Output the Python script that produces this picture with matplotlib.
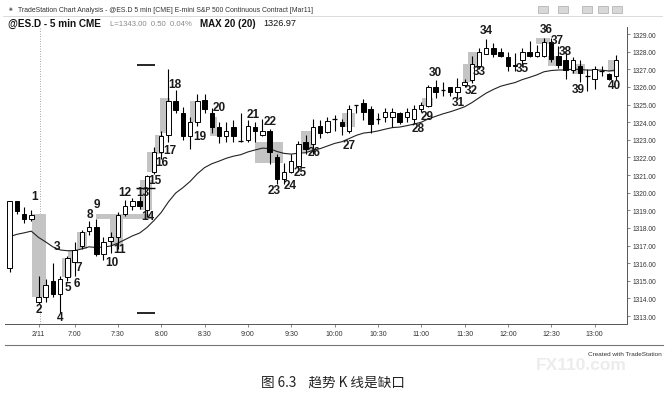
import numpy as np
import matplotlib
matplotlib.use('Agg')
import matplotlib.pyplot as plt
from matplotlib.patches import Rectangle

# 5 min bars, index 0 = last bars of prior session, index 4 = 6:35 first bar of 2/11
opens = [1315.7, 1319.5, 1318.8, 1318.5, 1313.8, 1314.1, 1315.0, 1314.25, 1315.2, 1316.05,
         1317.0, 1317.8, 1318.05, 1316.5, 1317.25, 1317.5, 1318.8, 1319.25, 1319.5, 1319.0,
         1321.2, 1322.3, 1323.3, 1325.2, 1324.5, 1323.2, 1324.0, 1325.25, 1324.5, 1323.7,
         1323.2, 1323.7, 1322.95, 1323.0, 1323.7, 1323.25, 1323.5, 1322.0, 1320.75, 1321.2,
         1321.5, 1322.9, 1322.75, 1323.8, 1323.45, 1324.2, 1324.0, 1323.5, 1325.0, 1325.1,
         1324.75, 1324.2, 1324.3, 1324.3, 1324.5, 1324.3, 1324.2, 1324.75, 1324.9, 1326.0,
         1325.8, 1326.0, 1325.7, 1326.1, 1326.4, 1327.2, 1327.85, 1328.2, 1328.0, 1327.7,
         1327.25, 1327.5, 1328.0, 1327.75, 1327.75, 1328.55, 1327.75, 1327.5, 1326.95, 1327.2,
         1326.6, 1326.45, 1326.9, 1326.75, 1326.6]
highs = [1319.5, 1319.5, 1319.2, 1319.0, 1315.3, 1315.1, 1316.0, 1315.3, 1316.4, 1317.2,
         1317.9, 1318.4, 1318.5, 1317.5, 1317.75, 1318.9, 1319.6, 1319.7, 1319.8, 1321.0,
         1322.6, 1323.5, 1327.0, 1325.8, 1324.85, 1324.3, 1325.6, 1325.6, 1324.8, 1324.0,
         1324.0, 1324.1, 1324.5, 1324.1, 1324.0, 1324.2, 1323.6, 1322.2, 1321.7, 1322.2,
         1322.95, 1323.3, 1324.2, 1324.1, 1324.3, 1324.4, 1324.2, 1325.0, 1325.0, 1325.3,
         1324.9, 1324.5, 1324.8, 1324.8, 1324.6, 1324.8, 1325.0, 1325.15, 1326.1, 1326.4,
         1326.3, 1326.0, 1326.5, 1326.45, 1327.75, 1328.2, 1328.7, 1328.5, 1328.2, 1328.0,
         1327.9, 1328.2, 1328.6, 1328.4, 1328.8, 1328.8, 1328.3, 1327.9, 1327.7, 1327.5,
         1327.0, 1327.2, 1327.2, 1326.8, 1327.8]
lows = [1315.5, 1318.8, 1318.3, 1318.4, 1313.7, 1313.8, 1314.1, 1313.2, 1315.0, 1315.3,
        1316.8, 1317.6, 1316.4, 1316.2, 1316.6, 1316.8, 1318.7, 1319.0, 1319.1, 1318.6,
        1321.05, 1321.9, 1322.9, 1324.5, 1323.0, 1322.5, 1323.8, 1324.5, 1323.4, 1322.8,
        1322.9, 1322.9, 1322.9, 1322.9, 1322.9, 1323.2, 1321.6, 1320.5, 1320.5, 1321.1,
        1321.3, 1322.2, 1322.2, 1323.1, 1323.4, 1323.5, 1323.3, 1323.4, 1324.5, 1324.1,
        1323.4, 1323.9, 1324.0, 1323.7, 1323.9, 1324.0, 1323.9, 1324.6, 1324.85, 1325.4,
        1325.5, 1325.5, 1325.4, 1326.0, 1326.2, 1327.0, 1327.85, 1327.7, 1327.7, 1326.9,
        1326.9, 1327.2, 1327.7, 1327.7, 1327.7, 1327.4, 1327.1, 1326.45, 1326.8, 1326.3,
        1325.75, 1325.9, 1326.6, 1326.4, 1326.4]
closes = [1319.5, 1318.95, 1318.5, 1318.75, 1314.1, 1314.75, 1314.25, 1315.1, 1316.3, 1316.75,
          1317.75, 1318.05, 1316.5, 1317.2, 1317.5, 1318.75, 1319.25, 1319.5, 1319.25, 1320.95,
          1322.3, 1323.2, 1325.2, 1324.7, 1323.2, 1324.0, 1325.2, 1324.75, 1323.7, 1323.2,
          1323.5, 1323.2, 1322.95, 1323.8, 1323.5, 1323.5, 1322.3, 1320.75, 1321.2, 1321.8,
          1322.75, 1322.5, 1323.7, 1323.4, 1324.05, 1324.2, 1323.8, 1324.75, 1325.0, 1324.6,
          1323.9, 1324.2, 1324.55, 1324.55, 1324.0, 1324.55, 1324.75, 1325.0, 1326.0, 1325.7,
          1325.8, 1325.7, 1326.0, 1326.3, 1327.3, 1328.0, 1328.2, 1327.85, 1327.75, 1327.2,
          1327.2, 1328.0, 1327.75, 1328.0, 1328.55, 1327.6, 1327.25, 1326.95, 1327.5, 1326.8,
          1326.6, 1327.0, 1326.9, 1326.45, 1327.5]

ma_start = 1317.5   # value of the 20 bar EMA at the first visible bar
ma_len = 20

time_ticks = [4, 9, 15, 21, 27, 33, 39, 45, 51, 57, 63, 69, 75, 81]
time_labels = ['2/11', '7:00', '7:30', '8:00', '8:30', '9:00', '9:30', '10:00',
               '10:30', '11:00', '11:30', '12:00', '12:30', '13:00']
price_ticks = list(range(1313, 1330))

# bar numbers written on the chart: (number, bar x, price)
bar_notes = [(1, 3.5, 1319.8), (2, 4.1, 1313.4), (3, 6.6, 1317.0), (4, 7.0, 1312.95),
             (5, 8.1, 1314.65), (6, 9.3, 1314.9), (7, 9.6, 1315.8), (8, 11.1, 1318.8),
             (9, 12.1, 1319.35), (10, 14.2, 1316.05), (11, 15.2, 1316.8), (12, 16.0, 1320.05),
             (13, 18.5, 1320.05), (14, 19.2, 1318.7), (15, 20.1, 1320.7), (16, 21.1, 1321.75),
             (17, 22.2, 1322.4), (18, 22.9, 1326.15), (19, 26.4, 1323.2), (20, 29.0, 1324.85),
             (21, 33.8, 1324.45), (22, 36.1, 1324.05), (23, 36.6, 1320.15), (24, 38.8, 1320.45),
             (25, 40.2, 1321.15), (26, 42.2, 1322.3), (27, 47.0, 1322.7), (28, 56.6, 1323.65),
             (29, 57.8, 1324.35), (30, 58.9, 1326.85), (31, 62.2, 1325.15), (32, 63.9, 1325.8),
             (33, 65.1, 1326.9), (34, 66.0, 1329.25), (35, 71.0, 1327.05), (36, 74.3, 1329.3),
             (37, 75.8, 1328.65), (38, 76.9, 1328.05), (39, 78.7, 1325.9), (40, 83.7, 1326.1)]

# grey highlight boxes (gaps): x from, x to, price low, price high
gaps = [(3.1, 5.0, 1314.1, 1318.8), (7.25, 8.6, 1315.2, 1316.3), (8.1, 9.3, 1316.0, 1316.75),
        (9.3, 10.7, 1316.8, 1317.75), (12.0, 19.7, 1318.5, 1318.8), (13.9, 15.7, 1317.0, 1318.7),
        (18.1, 19.7, 1319.0, 1320.7), (19.0, 20.4, 1321.2, 1322.3), (20.1, 21.2, 1322.2, 1323.3),
        (20.8, 22.2, 1323.4, 1325.4), (25.0, 26.1, 1324.0, 1325.2), (27.8, 28.7, 1323.2, 1324.3),
        (34.0, 37.9, 1321.7, 1322.9), (40.3, 42.2, 1322.3, 1323.5), (46.0, 47.8, 1323.7, 1324.5),
        (57.1, 58.6, 1324.9, 1325.4), (62.8, 64.2, 1326.3, 1327.3), (63.5, 65.2, 1327.1, 1328.0),
        (72.9, 74.8, 1328.45, 1328.8), (74.6, 75.8, 1327.2, 1327.75), (77.9, 79.7, 1326.75, 1327.3),
        (82.9, 84.3, 1326.85, 1327.5)]

W, H = 665, 402
fig = plt.figure(figsize=(W / 100, H / 100), dpi=100)
fig.patch.set_facecolor('white')

def fx(px):
    return px / W

def fy(py):
    return 1 - py / H

ax = fig.add_axes([fx(5), fy(325), fx(627) - fx(5), fy(28) - fy(325)])
ax.set_xlim(-0.64, 85.5)
ax.set_ylim(1312.55, 1329.4)

# grey gap boxes behind everything
for x0, x1, lo, hi in gaps:
    ax.add_patch(Rectangle((x0, lo), x1 - x0, hi - lo, facecolor='#c4c4c4',
                           edgecolor='none', zorder=1))

# 20 bar exponential moving average of the closes
alpha = 2 / (ma_len + 1)
ma = [ma_start]
for c in closes[1:]:
    ma.append(ma[-1] + alpha * (c - ma[-1]))
xs = np.arange(len(closes))
ax.plot(xs, ma, color='#222222', lw=0.8, zorder=2)

# candles
bw = 0.62
for i in range(len(closes)):
    o, h, l, c = opens[i], highs[i], lows[i], closes[i]
    ax.vlines(i, l, h, color='black', lw=0.8, zorder=3)
    if abs(c - o) < 0.04:
        ax.hlines(o, i - bw / 2, i + bw / 2, color='black', lw=0.9, zorder=4)
        continue
    fc = 'white' if c > o else 'black'
    ax.add_patch(Rectangle((i - bw / 2, min(o, c)), bw, abs(c - o), facecolor=fc,
                           edgecolor='black', lw=0.7, zorder=4))

# session start separator
ax.axvline(4.15, color='#888888', ls=(0, (1, 2)), lw=0.6, zorder=0)

# black marks above / below bar 13
ax.hlines([1327.25, 1313.2], 17.7, 20.1, color='black', lw=1.2, zorder=5)
ax.hlines(1320.25, 17.5, 20.1, color='black', lw=1.0, zorder=5)

for n, x, y in bar_notes:
    ax.text(x, y, str(n), ha='center', va='center', fontsize=8.5, fontweight='bold',
            family='Liberation Sans', color='#1a1a1a', zorder=6)

# axes styling like TradeStation
for s in ['top', 'left']:
    ax.spines[s].set_visible(False)
ax.spines['right'].set_color('#555555')
ax.spines['bottom'].set_color('#555555')
ax.spines['right'].set_linewidth(0.7)
ax.spines['bottom'].set_linewidth(0.7)
ax.yaxis.tick_right()
ax.set_yticks(price_ticks)
ax.set_yticklabels(['%.2f' % p for p in price_ticks], fontsize=4.8, color='#333333',
                   family='Liberation Sans')
ax.set_xticks(time_ticks)
ax.set_xticklabels(time_labels, fontsize=5, color='#333333', family='Liberation Sans')
ax.tick_params(axis='both', length=2, width=0.5, color='#555555', pad=2)

# window chrome
fig.text(fx(8), fy(10), '\u2055', fontsize=5, va='center', color='#555555')
fig.text(fx(18), fy(10), 'TradeStation Chart Analysis - @ES.D 5 min [CME] E-mini S&P 500 '
         'Continuous Contract [Mar11]', fontsize=4.95, va='center', color='#333333',
         family='Liberation Sans')
for px in [538, 558, 582, 598, 612]:
    fig.patches.append(Rectangle((fx(px), fy(14)), fx(10), fy(7) - fy(14), facecolor='#d8d8d8',
                                 edgecolor='#999999', lw=0.4, transform=fig.transFigure))
fig.add_artist(plt.Line2D([fx(3), fx(662)], [fy(17), fy(17)], color='#cccccc', lw=0.5))

hy = fy(24)
fig.text(fx(8), hy, '@ES.D - 5 min CME', fontsize=7.2, fontweight='bold', va='center',
         family='Liberation Sans', color='#111111')
fig.text(fx(110), hy, 'L=1343.00  0.50  0.04%', fontsize=5.6, va='center',
         family='Liberation Sans', color='#8a8a8a')
fig.text(fx(200), hy, 'MAX 20 (20)', fontsize=7.0, fontweight='bold', va='center',
         family='Liberation Sans', color='#111111')
fig.text(fx(263), hy, '1326.97', fontsize=6.6, va='center', family='Liberation Sans',
         color='#111111')

fig.add_artist(plt.Line2D([fx(5), fx(663)], [fy(346), fy(346)], color='#777777', lw=0.8))
fig.text(fx(536), fy(366), 'FX110.com', fontsize=12.5, fontweight='bold', va='center',
         color='#ececec', family='Liberation Sans', zorder=0)
fig.text(fx(662), fy(355), 'Created with TradeStation', fontsize=4.6, ha='right',
         va='center', color='#333333', family='Liberation Sans')

fig.text(fx(333), fy(383), '图 6.3    趋势 K 线是缺口', fontsize=9.8, ha='center', va='center',
         family=['Noto Sans CJK SC', 'DejaVu Sans'], color='#222222')

fig.savefig('out.png', dpi=100, facecolor='white')
